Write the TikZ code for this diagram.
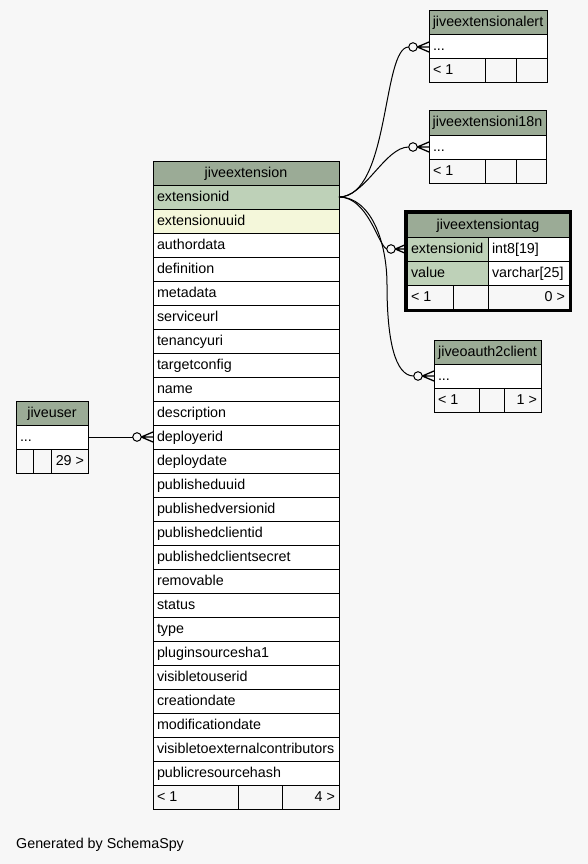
\documentclass[tikz,border=0pt]{standalone}
\usepackage{fontspec}
\setmainfont{Liberation Sans}
\usetikzlibrary{fit}
\definecolor{hdr}{HTML}{9BAB96}
\definecolor{keyc}{HTML}{BED1B8}
\definecolor{idxc}{HTML}{F4F7DA}
\definecolor{bg}{HTML}{F7F7F7}
\tikzset{
  cellbox/.style={draw=black, line width=1pt, inner xsep=4pt, inner ysep=0pt,
    minimum height=24pt, text height=11pt, text depth=3pt, outer sep=0pt,
    anchor=north west, font=\fontsize{14.3}{16}\selectfont},
  edge/.style={draw=black, line width=1pt},
  caption/.style={anchor=base west, inner sep=0pt, font=\fontsize{14.3}{16}\selectfont}
}
\newcommand\tc[7]{\node[cellbox, fill=#5] (#1) at (#2,#3) {\makebox[\dimexpr#4pt-8pt\relax][#6]{#7}};}
\newcommand\crowodot[1]{%
  \draw[edge] ([xshift=-16pt]#1) circle (4.3pt);
  \draw[edge, line width=1.3pt] ([xshift=-11.7pt]#1) -- ([yshift=5pt]#1)
              ([xshift=-11.7pt]#1) -- (#1)
              ([xshift=-11.7pt]#1) -- ([yshift=-5pt]#1);}
\begin{document}
\begin{tikzpicture}[x=1pt,y=-1pt]
\useasboundingbox (0,0) rectangle (588,864);
\fill[bg] (0,0) rectangle (588,864);

% jiveextension
\tc{ext}{153}{161}{186}{hdr}{c}{jiveextension}
\tc{e1}{153}{185}{186}{keyc}{l}{extensionid}
\tc{e2}{153}{209}{186}{idxc}{l}{extensionuuid}
\tc{e3}{153}{233}{186}{white}{l}{authordata}
\tc{e4}{153}{257}{186}{white}{l}{definition}
\tc{e5}{153}{281}{186}{white}{l}{metadata}
\tc{e6}{153}{305}{186}{white}{l}{serviceurl}
\tc{e7}{153}{329}{186}{white}{l}{tenancyuri}
\tc{e8}{153}{353}{186}{white}{l}{targetconfig}
\tc{e9}{153}{377}{186}{white}{l}{name}
\tc{e10}{153}{401}{186}{white}{l}{description}
\tc{e11}{153}{425}{186}{white}{l}{deployerid}
\tc{e12}{153}{449}{186}{white}{l}{deploydate}
\tc{e13}{153}{473}{186}{white}{l}{publisheduuid}
\tc{e14}{153}{497}{186}{white}{l}{publishedversionid}
\tc{e15}{153}{521}{186}{white}{l}{publishedclientid}
\tc{e16}{153}{545}{186}{white}{l}{publishedclientsecret}
\tc{e17}{153}{569}{186}{white}{l}{removable}
\tc{e18}{153}{593}{186}{white}{l}{status}
\tc{e19}{153}{617}{186}{white}{l}{type}
\tc{e20}{153}{641}{186}{white}{l}{pluginsourcesha1}
\tc{e21}{153}{665}{186}{white}{l}{visibletouserid}
\tc{e22}{153}{689}{186}{white}{l}{creationdate}
\tc{e23}{153}{713}{186}{white}{l}{modificationdate}
\tc{e24}{153}{737}{186}{white}{l}{visibletoexternalcontributors}
\tc{e25}{153}{761}{186}{white}{l}{publicresourcehash}
\tc{extf1}{153}{785}{85}{bg}{l}{< 1}
\tc{extf2}{238}{785}{44}{bg}{l}{}
\tc{extf3}{282}{785}{57}{bg}{r}{4 >}

% jiveuser
\tc{user}{16}{401}{72}{hdr}{c}{jiveuser}
\tc{userr}{16}{425}{72}{white}{l}{...}
\tc{userf1}{16}{449}{17}{bg}{l}{}
\tc{userf2}{33}{449}{18}{bg}{l}{}
\tc{userf3}{51}{449}{37}{bg}{r}{29 >}

% jiveextensionalert
\tc{alert}{429}{11}{118}{hdr}{c}{jiveextensionalert}
\tc{alertr}{429}{35}{118}{white}{l}{...}
\tc{alertf1}{429}{59}{56}{bg}{l}{< 1}
\tc{alertf2}{485}{59}{31}{bg}{l}{}
\tc{alertf3}{516}{59}{31}{bg}{r}{}

% jiveextensioni18n
\tc{i18n}{429}{111}{117}{hdr}{c}{jiveextensioni18n}
\tc{i18nr}{429}{135}{117}{white}{l}{...}
\tc{i18nf1}{429}{159}{56}{bg}{l}{< 1}
\tc{i18nf2}{485}{159}{31}{bg}{l}{}
\tc{i18nf3}{516}{159}{30}{bg}{r}{}

% jiveextensiontag
\tc{tag}{407}{213}{162}{hdr}{c}{jiveextensiontag}
\tc{tagr1}{407}{237}{81}{keyc}{l}{extensionid}
\tc{tagr1b}{488}{237}{81}{white}{l}{int8[19]}
\tc{tagr2}{407}{261}{81}{keyc}{l}{value}
\tc{tagr2b}{488}{261}{81}{white}{l}{varchar[25]}
\tc{tagf1}{407}{285}{46}{bg}{l}{< 1}
\tc{tagf2}{453}{285}{35}{bg}{l}{}
\tc{tagf3}{488}{285}{81}{bg}{r}{0 >}
\node[draw=black, line width=3pt, fit=(tag)(tagf3), inner sep=1.5pt] (tagborder) {};

% jiveoauth2client
\tc{oauth}{434}{340}{107}{hdr}{c}{jiveoauth2client}
\tc{oauthr}{434}{364}{107}{white}{l}{...}
\tc{oauthf1}{434}{388}{45}{bg}{l}{< 1}
\tc{oauthf2}{479}{388}{25}{bg}{l}{}
\tc{oauthf3}{504}{388}{37}{bg}{r}{1 >}

% connectors
\draw[edge] (e1.east) .. controls (390,197) and (382,47) .. ([xshift=-20.3pt]alertr.west);
\crowodot{alertr.west}
\draw[edge] (e1.east) .. controls (365,197) and (385,147) .. ([xshift=-20.3pt]i18nr.west);
\crowodot{i18nr.west}
\draw[edge] (e1.east) .. controls (368,197) and (378,245) .. ([xshift=-20.3pt]tagr1.west);
\crowodot{tagr1.west}
\draw[edge] (e1.east) .. controls (370,197) and (387,240) .. (387,285)
   .. controls (387,340) and (395,376) .. ([xshift=-20.3pt]oauthr.west);
\crowodot{oauthr.west}
\draw[edge] (userr.east) -- ([xshift=-20.3pt]e11.west);
\crowodot{e11.west}

\node[caption] (gen) at (16,848) {Generated by SchemaSpy};
\end{tikzpicture}
\end{document}
